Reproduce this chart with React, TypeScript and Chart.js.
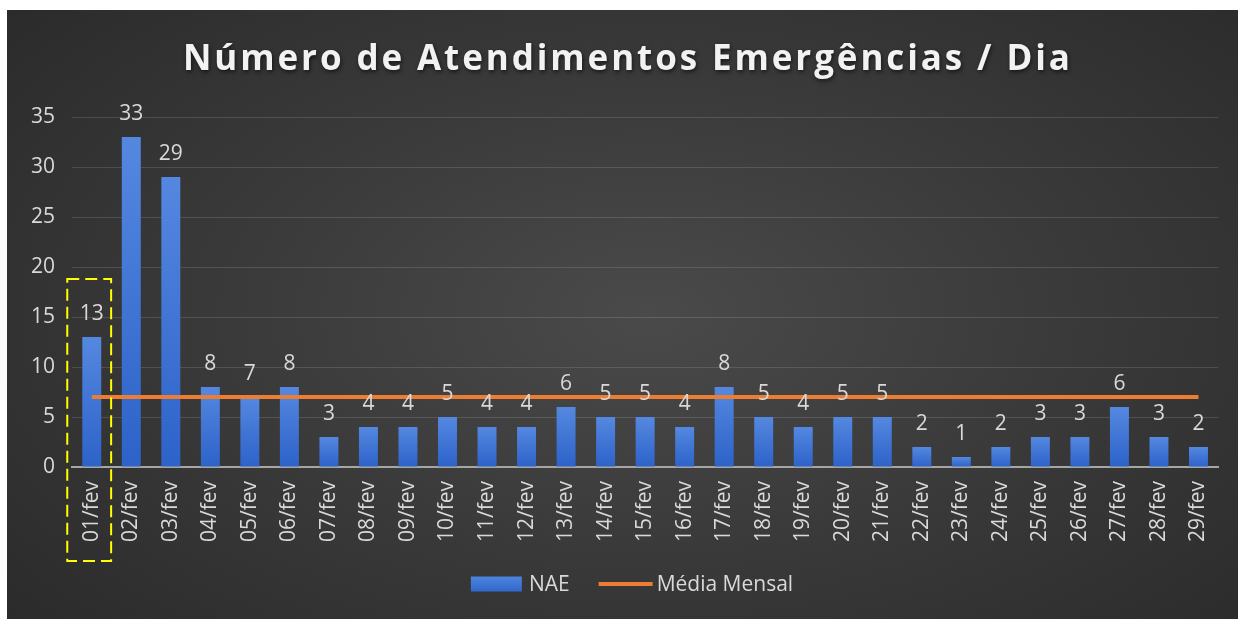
import React, { useEffect, useRef } from 'react';
import { Chart, registerables } from 'chart.js';

Chart.register(...registerables);

const TITLE = 'Número de Atendimentos Emergências / Dia';
const categories = [
  '01/fev', '02/fev', '03/fev', '04/fev', '05/fev', '06/fev', '07/fev', '08/fev', '09/fev', '10/fev',
  '11/fev', '12/fev', '13/fev', '14/fev', '15/fev', '16/fev', '17/fev', '18/fev', '19/fev', '20/fev',
  '21/fev', '22/fev', '23/fev', '24/fev', '25/fev', '26/fev', '27/fev', '28/fev', '29/fev',
];
const nae = [13, 33, 29, 8, 7, 8, 3, 4, 4, 5, 4, 4, 6, 5, 5, 4, 8, 5, 4, 5, 5, 2, 1, 2, 3, 3, 6, 3, 2];
const mediaMensal = [7, 7, 7, 7, 7, 7, 7, 7, 7, 7, 7, 7, 7, 7, 7, 7, 7, 7, 7, 7, 7, 7, 7, 7, 7, 7, 7, 7, 7];
const seriesNames = ['NAE', 'Média Mensal'];
const yMin = 0;
const yMax = 35;
const yStep = 5;
const highlightTop = 18.8;

const FONT = "'Open Sans', sans-serif";
const TEXT = '#d9d9d9';
const BLUE = '#4472C4';
const ORANGE = '#ED7D31';

const titlePlugin = {
  id: 'customTitle',
  afterDraw(chart: any) {
    const ctx = chart.ctx;
    ctx.save();
    ctx.font = `bold 35px ${FONT}`;
    ctx.fillStyle = '#f2f2f2';
    ctx.textAlign = 'left';
    ctx.textBaseline = 'alphabetic';
    (ctx as any).letterSpacing = '0px';
    const natural = ctx.measureText(TITLE).width;
    const target = 887;
    const sp = Math.max(0, (target - natural) / (TITLE.length - 1));
    (ctx as any).letterSpacing = `${sp}px`;
    ctx.shadowColor = 'rgba(0,0,0,0.6)';
    ctx.shadowBlur = 4;
    ctx.shadowOffsetX = 1;
    ctx.shadowOffsetY = 2;
    const x = chart.width / 2 + 4 - target / 2;
    ctx.fillText(TITLE, x, 60);
    ctx.restore();
  },
};

const labelPlugin = {
  id: 'barLabels',
  afterDatasetsDraw(chart: any) {
    const ctx = chart.ctx;
    const meta = chart.getDatasetMeta(0);
    ctx.save();
    ctx.font = `21px ${FONT}`;
    ctx.fillStyle = TEXT;
    ctx.textAlign = 'center';
    ctx.textBaseline = 'alphabetic';
    meta.data.forEach((el: any, i: number) => {
      ctx.fillText(String(nae[i]), el.x, el.y - 17.5);
    });
    ctx.restore();
  },
};

const legendPlugin = {
  id: 'customLegend',
  afterDraw(chart: any) {
    const ctx = chart.ctx;
    ctx.save();
    ctx.font = `21px ${FONT}`;
    ctx.textBaseline = 'middle';
    ctx.textAlign = 'left';
    const boxW = 51;
    const lineW = 54;
    const w0 = ctx.measureText(seriesNames[0]).width;
    const w1 = ctx.measureText(seriesNames[1]).width;
    const total = boxW + 7 + w0 + 29 + lineW + 4 + w1;
    const y = chart.height - 35;
    let x = chart.width / 2 + 9.5 - total / 2;
    ctx.fillStyle = BLUE;
    const g = ctx.createLinearGradient(0, y - 7.5, 0, y + 7.5);
    g.addColorStop(0, '#4f84de');
    g.addColorStop(1, '#3068cc');
    ctx.fillStyle = g;
    ctx.fillRect(x, y - 7.5, boxW, 15);
    x += boxW + 7;
    ctx.fillStyle = TEXT;
    ctx.fillText(seriesNames[0], x, y + 1);
    x += w0 + 29;
    ctx.strokeStyle = ORANGE;
    ctx.lineWidth = 4;
    ctx.beginPath();
    ctx.moveTo(x, y);
    ctx.lineTo(x + lineW, y);
    ctx.stroke();
    x += lineW + 4;
    ctx.fillText(seriesNames[1], x, y + 1);
    ctx.restore();
  },
};

const highlightPlugin = {
  id: 'highlight',
  afterDraw(chart: any) {
    const ctx = chart.ctx;
    const xs = chart.scales.x;
    const ys = chart.scales.y;
    const cx = xs.getPixelForValue(0);
    const cw = xs.getPixelForValue(1) - cx;
    const left = cx - 0.62 * cw;
    const right = cx + 0.49 * cw;
    const top = ys.getPixelForValue(highlightTop);
    const bottom = ys.getPixelForValue(0) + 94;
    ctx.save();
    ctx.strokeStyle = '#ffff00';
    ctx.lineWidth = 2;
    ctx.setLineDash([12, 6]);
    ctx.strokeRect(left, top, right - left, bottom - top);
    ctx.restore();
  },
};

export default function App() {
  const ref = useRef<HTMLCanvasElement | null>(null);

  useEffect(() => {
    if (!ref.current) return;
    Chart.defaults.font.family = FONT;
    const chart = new Chart(ref.current, {
      type: 'bar',
      data: {
        labels: categories,
        datasets: [
          {
            type: 'bar',
            label: seriesNames[0],
            data: nae,
            backgroundColor: (c: any) => {
              const ch = c.chart;
              const ys = ch.scales && ch.scales.y;
              if (!ys || c.type !== 'data') return BLUE;
              const t = ys.getPixelForValue(c.raw);
              const b = ys.getPixelForValue(0);
              if (!isFinite(t) || !isFinite(b) || t === b) return BLUE;
              const g = ch.ctx.createLinearGradient(0, t, 0, b);
              g.addColorStop(0, '#5488e0');
              g.addColorStop(1, '#2d62c9');
              return g;
            },
            barPercentage: 0.48,
            categoryPercentage: 1,
            order: 2,
          } as any,
          {
            type: 'line',
            label: seriesNames[1],
            data: mediaMensal,
            borderColor: ORANGE,
            backgroundColor: ORANGE,
            borderWidth: 4,
            pointRadius: 0,
            order: 1,
          } as any,
        ],
      },
      options: {
        responsive: true,
        maintainAspectRatio: false,
        animation: false,
        layout: { padding: { top: 107, right: 18, left: 0, bottom: 58 } },
        plugins: {
          title: { display: false },
          tooltip: { enabled: false },
          legend: { display: false },
        },
        scales: {
          x: {
            grid: { display: false, drawTicks: false },
            border: { display: true, color: '#a6a6a6', width: 2 },
            ticks: {
              color: TEXT,
              font: { size: 21, family: FONT },
              minRotation: 90,
              maxRotation: 90,
              autoSkip: false,
              padding: 14,
            },
            afterFit: (s: any) => {
              s.height = 94;
            },
          },
          y: {
            min: yMin,
            max: yMax,
            grid: { color: 'rgba(217,217,217,0.16)', lineWidth: 1, drawTicks: false },
            border: { display: false },
            ticks: {
              stepSize: yStep,
              color: TEXT,
              font: { size: 21, family: FONT },
              padding: 17,
            },
            afterFit: (s: any) => {
              s.width = 65;
            },
          },
        },
      },
      plugins: [labelPlugin, titlePlugin, highlightPlugin, legendPlugin],
    });
    return () => chart.destroy();
  }, []);

  return (
    <div
      style={{
        position: 'absolute',
        left: 7,
        top: 10,
        width: 1231,
        height: 609,
        background: 'radial-gradient(ellipse 75% 85% at 52% 50%, #4a4a4a 0%, #3a3a3a 45%, #282828 100%)',
      }}
    >
      <canvas ref={ref} />
    </div>
  );
}
